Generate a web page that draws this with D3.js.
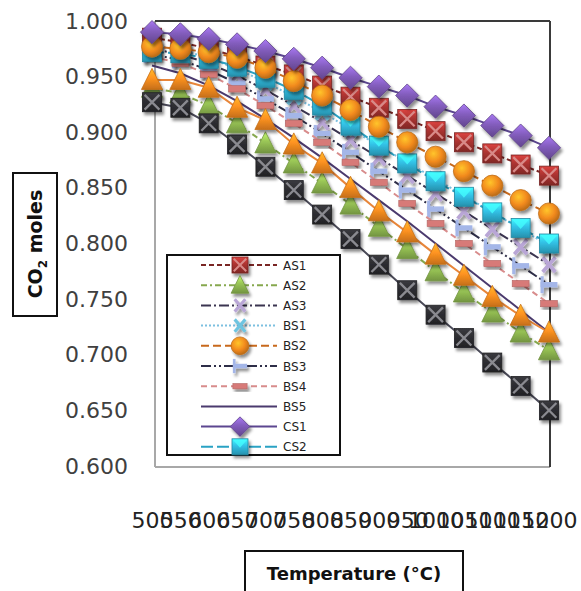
<!DOCTYPE html>
<html><head><meta charset="utf-8">
<script src="https://cdn.jsdelivr.net/npm/d3@7"></script>
<style>body{margin:0;background:#fff}svg{display:block}</style>
</head><body>
<script>
// ---- data ----
const categories = [500,550,600,650,700,750,800,850,900,950,1000,1050,1100,1150,1200];
const yTicks = [0.600,0.650,0.700,0.750,0.800,0.850,0.900,0.950,1.000];
const AS1 = [0.985,0.981,0.975,0.968,0.960,0.952,0.942,0.932,0.922,0.912,0.901,0.891,0.881,0.871,0.861];
const AS2 = [0.940,0.935,0.924,0.908,0.890,0.872,0.854,0.835,0.815,0.795,0.775,0.756,0.738,0.720,0.704];
const AS3 = [0.975,0.970,0.962,0.951,0.938,0.924,0.909,0.893,0.877,0.861,0.845,0.829,0.813,0.797,0.781];
const BS1 = [0.978,0.974,0.967,0.957,0.945,0.932,0.918,0.903,0.888,0.873,0.858,0.843,0.828,0.813,0.798];
const BS2 = [0.977,0.975,0.972,0.967,0.958,0.946,0.933,0.920,0.905,0.891,0.878,0.865,0.852,0.839,0.827];
const BS3 = [0.970,0.965,0.956,0.944,0.930,0.915,0.899,0.882,0.865,0.848,0.831,0.814,0.797,0.780,0.763];
const BS4 = [0.968,0.962,0.952,0.939,0.924,0.908,0.891,0.873,0.855,0.836,0.818,0.800,0.782,0.764,0.746];
const BS5 = [0.960,0.953,0.942,0.928,0.912,0.895,0.877,0.858,0.839,0.820,0.800,0.780,0.760,0.740,0.720];
const CS1 = [0.990,0.988,0.984,0.979,0.973,0.966,0.958,0.949,0.941,0.933,0.923,0.915,0.906,0.897,0.886];
const CS2 = [0.972,0.971,0.966,0.959,0.949,0.938,0.924,0.906,0.888,0.872,0.856,0.842,0.828,0.814,0.800];
const CS3 = [0.947,0.947,0.940,0.922,0.911,0.889,0.872,0.850,0.829,0.810,0.790,0.771,0.752,0.735,0.720];
const CS4 = [0.927,0.922,0.908,0.889,0.869,0.848,0.826,0.804,0.781,0.758,0.736,0.715,0.693,0.672,0.650];
const seriesNames = ["AS1","AS2","AS3","BS1","BS2","BS3","BS4","BS5","CS1","CS2","CS3","CS4"];
const seriesValues = [AS1,AS2,AS3,BS1,BS2,BS3,BS4,BS5,CS1,CS2,CS3,CS4];
const legendNames = ["AS1","AS2","AS3","BS1","BS2","BS3","BS4","BS5","CS1","CS2"];
const yTitle = "moles";
const xTitle = "Temperature (°C)";

// ---- styles ----
const styles = {
  AS1:{m:"xsq", c:"#a0302e", lc:"#7a2624", dash:"5,3", xc:"#d88a88"},
  AS2:{m:"tri", c:"#8fb850", lc:"#86a84e", dash:"6,3,2,3"},
  AS3:{m:"x",   c:"#b9a6d6", lc:"#3b3550", dash:"10,3,2,3"},
  BS1:{m:"x",   c:"#6ec4e0", lc:"#7cc0e0", dash:"2,2"},
  BS2:{m:"circ",c:"#f28a1e", lc:"#c8691c", dash:"8,4"},
  BS3:{m:"plus",c:"#a4b6e8", lc:"#2e2e48", dash:"10,3,2,3,2,3"},
  BS4:{m:"dash",c:"#d77a78", lc:"#d88c8c", dash:"6,4"},
  BS5:{m:"none",c:"#4b3a6e", lc:"#4b3a6e", dash:null},
  CS1:{m:"dia", c:"#7a57b0", lc:"#5c4690", dash:null},
  CS2:{m:"sq",  c:"#2fb4d6", lc:"#2aa2c4", dash:"12,4"},
  CS3:{m:"tri", c:"#f58a1f", lc:"#e8863a", dash:null},
  CS4:{m:"xsq", c:"#2a2a2e", lc:"#4a4a58", dash:null, xc:"#8a8a90"}
};
const drawOrder = ["BS5","AS3","BS3","BS4","BS1","AS1","AS2","CS2","BS2","CS1","CS3","CS4"];

const W=581,H=591;
const svg=d3.select("body").append("svg").attr("width",W).attr("height",H);
svg.append("rect").attr("width",W).attr("height",H).attr("fill","#fff");
const defs=svg.append("defs");
const f=defs.append("filter").attr("id","sh").attr("x","-50%").attr("y","-50%").attr("width","200%").attr("height","200%");
f.append("feDropShadow").attr("dx",2).attr("dy",3).attr("stdDeviation",1.8).attr("flood-color","#000").attr("flood-opacity",0.45);

let gid=0;
function grad(c){
  const id="g"+(gid++);
  const g=defs.append("linearGradient").attr("id",id).attr("x1",0).attr("y1",0).attr("x2",0).attr("y2",1);
  const col=d3.color(c);
  g.append("stop").attr("offset","0%").attr("stop-color",col.brighter(0.9));
  g.append("stop").attr("offset","45%").attr("stop-color",col.brighter(0.2));
  g.append("stop").attr("offset","100%").attr("stop-color",col.darker(0.6));
  return `url(#${id})`;
}
function rgrad(c){
  const id="r"+(gid++);
  const g=defs.append("radialGradient").attr("id",id).attr("cx","40%").attr("cy","35%").attr("r","65%");
  const col=d3.color(c);
  g.append("stop").attr("offset","0%").attr("stop-color",col.brighter(1.0));
  g.append("stop").attr("offset","60%").attr("stop-color",col);
  g.append("stop").attr("offset","100%").attr("stop-color",col.darker(0.7));
  return `url(#${id})`;
}

const x=d3.scalePoint().domain(categories).range([152,549]);
const y=d3.scaleLinear().domain([0.6,1]).range([466,21]);

// axes labels
const ya=svg.append("g").attr("transform","translate(155,0)")
  .call(d3.axisLeft(y).tickValues(yTicks).tickFormat(d3.format(".3f")).tickSize(0).tickPadding(27));
ya.select(".domain").remove();
ya.selectAll("text").attr("font-family","DejaVu Sans").attr("font-size",22).attr("fill","#404040");
const xa=svg.append("g").attr("transform","translate(0,467)")
  .call(d3.axisBottom(x).tickSize(0).tickPadding(45));
xa.select(".domain").remove();
xa.selectAll("text").attr("font-family","DejaVu Sans").attr("font-size",22).attr("fill","#222");

// plot border
svg.append("line").attr("x1",155).attr("x2",155).attr("y1",21).attr("y2",467).attr("stroke","#a8a8a8").attr("stroke-width",2);
svg.append("line").attr("x1",155).attr("x2",550).attr("y1",467).attr("y2",467).attr("stroke","#a8a8a8").attr("stroke-width",2);
svg.append("line").attr("x1",155).attr("x2",550).attr("y1",21).attr("y2",21).attr("stroke","#3a3a3a").attr("stroke-width",2);
svg.append("line").attr("x1",550).attr("x2",550).attr("y1",21).attr("y2",467).attr("stroke","#3a3a3a").attr("stroke-width",2);

function drawMarker(g,s,size){
  const k=size/18;
  if(s.m==="sq"||s.m==="xsq"){
    g.append("rect").attr("x",-9*k).attr("y",-9*k).attr("width",18*k).attr("height",18*k)
      .attr("fill",grad(s.c)).attr("stroke",d3.color(s.c).darker(0.8)).attr("stroke-width",0.8);
    if(s.m==="sq"){
      g.append("path").attr("d",`M${-8*k},${-8*k}L0,${1*k}L${8*k},${-8*k}Z`).attr("fill",d3.color(s.c).brighter(1.1)).attr("opacity",0.75);
    } else {
      g.append("path").attr("d",`M${-7*k},${-7*k}L${7*k},${7*k}M${7*k},${-7*k}L${-7*k},${7*k}`)
        .attr("stroke",s.xc).attr("stroke-width",2.2*k);
    }
  } else if(s.m==="tri"){
    g.append("path").attr("d",`M0,${-11*k}L${10*k},${9*k}L${-10*k},${9*k}Z`)
      .attr("fill",grad(s.c)).attr("stroke",d3.color(s.c).darker(0.6)).attr("stroke-width",0.8);
  } else if(s.m==="circ"){
    g.append("circle").attr("r",10*k).attr("fill",rgrad(s.c)).attr("stroke",d3.color(s.c).darker(0.7)).attr("stroke-width",0.8);
  } else if(s.m==="dia"){
    g.append("path").attr("d",`M0,${-11*k}L${11*k},0L0,${11*k}L${-11*k},0Z`)
      .attr("fill",grad(s.c)).attr("stroke",d3.color(s.c).darker(0.7)).attr("stroke-width",0.8);
  } else if(s.m==="x"){
    g.append("path").attr("d",`M${-6*k},${-7*k}L${6*k},${7*k}M${6*k},${-7*k}L${-6*k},${7*k}`)
      .attr("stroke",s.c).attr("stroke-width",3.5*k);
  } else if(s.m==="plus"){
    g.append("rect").attr("x",-8*k).attr("y",-2.5*k).attr("width",16*k).attr("height",5*k).attr("fill",s.c);
    g.append("rect").attr("x",-8*k).attr("y",-8*k).attr("width",3*k).attr("height",16*k).attr("fill",s.c);
  } else if(s.m==="dash"){
    g.append("rect").attr("x",-8*k).attr("y",-3*k).attr("width",16*k).attr("height",6*k).attr("fill",s.c)
      .attr("stroke",d3.color(s.c).darker(0.5)).attr("stroke-width",0.6);
  }
}

const line=d3.line().x((d,i)=>x(categories[i])).y(d=>y(d));
const plot=svg.append("g");
drawOrder.forEach(name=>{
  const vals=seriesValues[seriesNames.indexOf(name)];
  const s=styles[name];
  const g=plot.append("g");
  g.append("path").attr("d",line(vals)).attr("fill","none").attr("stroke",s.lc)
    .attr("stroke-width",2).attr("stroke-dasharray",s.dash);
  vals.forEach((v,i)=>{
    const mg=g.append("g").attr("transform",`translate(${x(categories[i])},${y(v)})`).attr("filter","url(#sh)");
    drawMarker(mg,s,19);
  });
});

// legend
const lg=svg.append("g");
lg.append("rect").attr("x",167).attr("y",255).attr("width",173).attr("height",200).attr("fill","#fff").attr("stroke","#111").attr("stroke-width",2);
legendNames.forEach((n,i)=>{
  const s=styles[n];
  const yy=265+i*20.2;
  lg.append("line").attr("x1",201).attr("x2",277).attr("y1",yy).attr("y2",yy).attr("stroke",s.lc)
    .attr("stroke-width",2).attr("stroke-dasharray",s.dash);
  const mg=lg.append("g").attr("transform",`translate(240,${yy})`).attr("filter","url(#sh)");
  drawMarker(mg,s,16);
  lg.append("text").attr("x",283).attr("y",yy+4.5).text(n).attr("font-family","DejaVu Sans").attr("font-size",12).attr("fill","#222");
});

// axis titles
svg.append("rect").attr("x",13).attr("y",173).attr("width",44).attr("height",143).attr("fill","none").attr("stroke","#111").attr("stroke-width",2);
const yt=svg.append("text").attr("transform","translate(42,244) rotate(-90)").attr("text-anchor","middle")
  .attr("font-family","DejaVu Sans").attr("font-weight","bold").attr("font-size",19).attr("fill","#111");
yt.append("tspan").text("CO");
yt.append("tspan").text("2").attr("font-size",12).attr("dy",5);
yt.append("tspan").text(" "+yTitle).attr("dy",-5);
svg.append("rect").attr("x",245).attr("y",551).attr("width",218).attr("height",42).attr("fill","none").attr("stroke","#111").attr("stroke-width",2);
svg.append("text").attr("x",354).attr("y",580).attr("text-anchor","middle").text(xTitle)
  .attr("font-family","DejaVu Sans").attr("font-weight","bold").attr("font-size",18).attr("fill","#111");
</script>
</body></html>
